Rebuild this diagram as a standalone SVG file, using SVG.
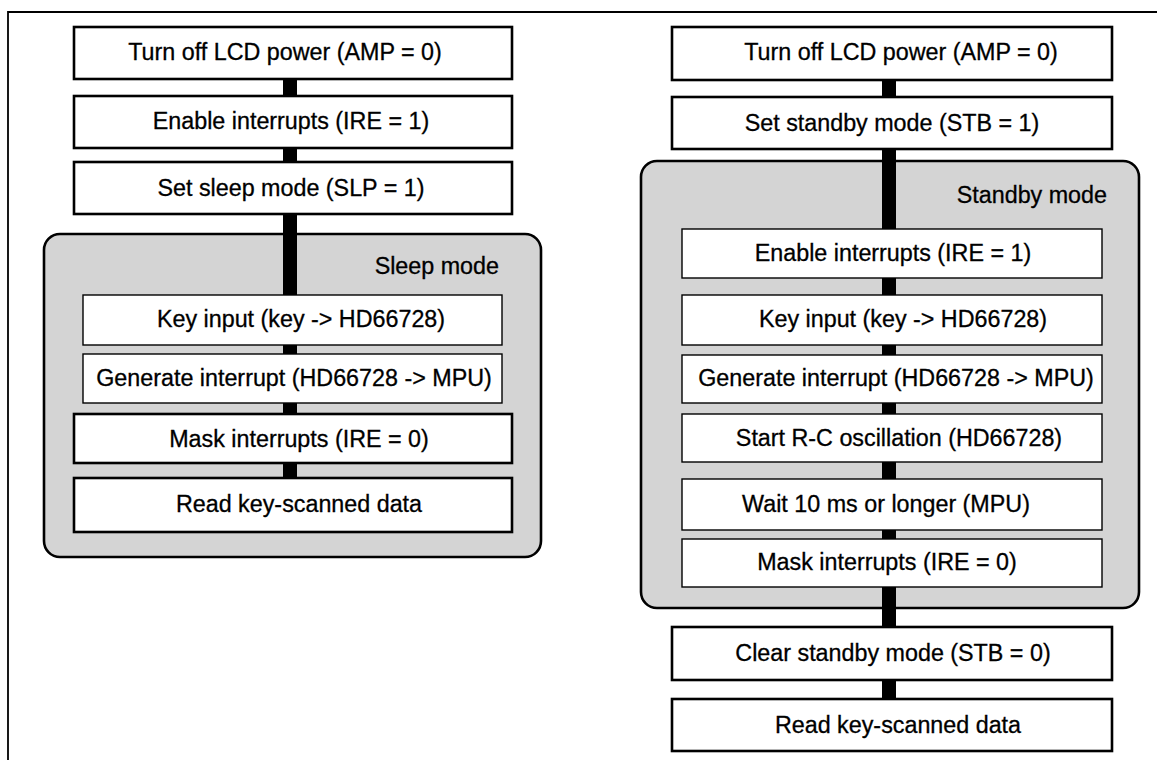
<svg xmlns="http://www.w3.org/2000/svg" width="1157" height="760" viewBox="0 0 1157 760">
<style>
text{font-family:"Liberation Sans",Arial,Helvetica,sans-serif;font-size:23.3px;fill:#000;stroke:#000;stroke-width:0.3;text-anchor:middle}
.lbl{text-anchor:end}
.box{fill:#fff;stroke:#000;stroke-width:2.6}
.ibox{fill:#fff;stroke:#000;stroke-width:1.4}
.grp{fill:#d4d4d4;stroke:#000;stroke-width:2.6}
.con{stroke:#000;stroke-width:14;fill:none}
</style>
<rect width="1157" height="760" fill="#fff"/>
<path d="M8,760 V12 H1157" fill="none" stroke="#000" stroke-width="1.8"/>
<g id="sleep-mode">
<rect class="grp" x="44" y="234" width="497" height="323" rx="16"/>
<text class="lbl" x="499" y="274">Sleep mode</text>
</g>
<g id="standby-mode">
<rect class="grp" x="641" y="161" width="498" height="447" rx="16"/>
<text class="lbl" x="1107" y="203">Standby mode</text>
</g>
<g id="connectors">
<path class="con" d="M290,79V96 M290,148V162 M290,214V295 M290,345V354 M290,403V414 M290,463V478"/>
<path class="con" d="M889,80V97 M889,149V229 M889,278V295 M889,345V355 M889,403V414 M889,462V479 M889,530V539 M889,587V627 M889,680V699"/>
</g>
<g id="l1"><rect class="box" x="74" y="27" width="438" height="52"/><text x="285" y="60">Turn off LCD power (AMP = 0)</text></g>
<g id="l2"><rect class="box" x="74" y="96" width="438" height="52"/><text x="291" y="129">Enable interrupts (IRE = 1)</text></g>
<g id="l3"><rect class="box" x="74" y="162" width="438" height="52"/><text x="291" y="196">Set sleep mode (SLP = 1)</text></g>
<g id="l4"><rect class="ibox" x="83" y="295" width="419" height="50"/><text x="301" y="327">Key input (key -&gt; HD66728)</text></g>
<g id="l5"><rect class="ibox" x="83" y="354" width="419" height="49"/><text x="294" y="386">Generate interrupt (HD66728 -&gt; MPU)</text></g>
<g id="l6"><rect class="box" x="74" y="414" width="438" height="49"/><text x="299" y="447">Mask interrupts (IRE = 0)</text></g>
<g id="l7"><rect class="box" x="74" y="478" width="438" height="54"/><text x="299" y="512">Read key-scanned data</text></g>
<g id="r1"><rect class="box" x="672" y="27" width="440" height="53"/><text x="901" y="60">Turn off LCD power (AMP = 0)</text></g>
<g id="r2"><rect class="box" x="672" y="97" width="440" height="52"/><text x="892" y="131">Set standby mode (STB = 1)</text></g>
<g id="r3"><rect class="ibox" x="682" y="229" width="420" height="49"/><text x="893" y="261">Enable interrupts (IRE = 1)</text></g>
<g id="r4"><rect class="ibox" x="682" y="295" width="420" height="50"/><text x="903" y="327">Key input (key -&gt; HD66728)</text></g>
<g id="r5"><rect class="ibox" x="682" y="355" width="420" height="48"/><text x="896" y="386">Generate interrupt (HD66728 -&gt; MPU)</text></g>
<g id="r6"><rect class="ibox" x="682" y="414" width="420" height="48"/><text x="899" y="446">Start R-C oscillation (HD66728)</text></g>
<g id="r7"><rect class="ibox" x="682" y="479" width="420" height="51"/><text x="886" y="512">Wait 10 ms or longer (MPU)</text></g>
<g id="r8"><rect class="ibox" x="682" y="539" width="420" height="48"/><text x="887" y="570">Mask interrupts (IRE = 0)</text></g>
<g id="r9"><rect class="box" x="672" y="627" width="440" height="53"/><text x="893" y="661">Clear standby mode (STB = 0)</text></g>
<g id="r10"><rect class="box" x="672" y="699" width="440" height="52"/><text x="898" y="733">Read key-scanned data</text></g>
</svg>
